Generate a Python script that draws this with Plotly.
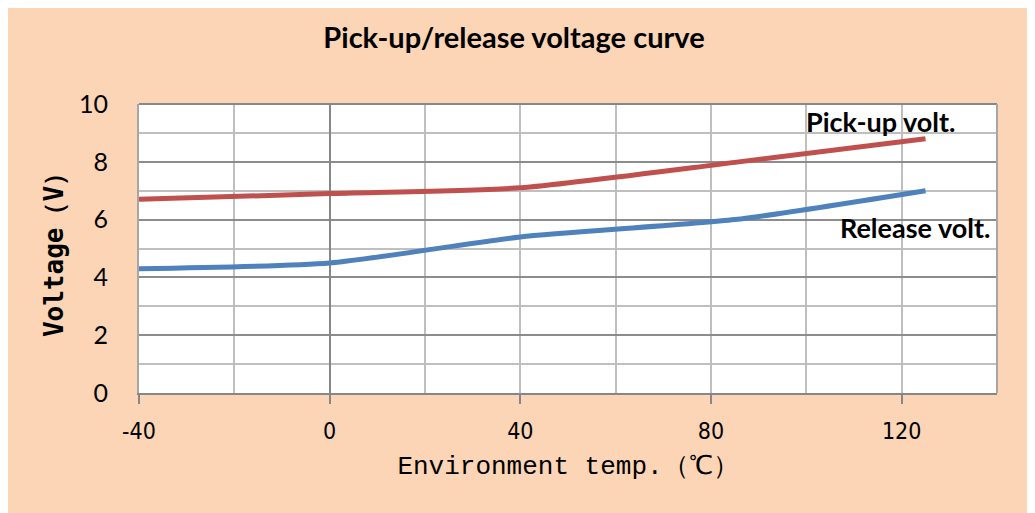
import plotly.graph_objects as go

temps = [-40, 0, 40, 85, 125]
pickup_v = [6.7, 6.9, 7.1, 7.98, 8.8]
release_v = [4.3, 4.5, 5.4, 6.0, 7.0]

x_tickvals = [-40, 0, 40, 80, 120]
x_ticktext = ["-40", "0", "40", "80", "120"]

title_text = "Pick-up/release voltage curve"
x_title = "Environment temp.（℃）"
y_title = "Voltage（V）"

W, H = 1035, 513
L, R, T, B = 131, 46, 96, 128
PEACH = "#FBD5B5"

fig = go.Figure()
fig.add_trace(go.Scatter(x=temps, y=pickup_v, mode="lines", name="Pick-up volt.",
                         line=dict(color="#C0504D", width=5, shape="spline", smoothing=0.6)))
fig.add_trace(go.Scatter(x=temps, y=release_v, mode="lines", name="Release volt.",
                         line=dict(color="#4F81BD", width=5, shape="spline", smoothing=0.6)))

fig.add_annotation(x=115.6, y=9.38, text="<b>Pick-up volt.</b>", showarrow=False,
                   font=dict(family="Lato, Noto Sans", size=27, color="black"))
fig.add_annotation(x=122.9, y=5.71, text="<b>Release volt.</b>", showarrow=False,
                   font=dict(family="Lato, Noto Sans", size=27, color="black"))

fig.update_layout(
    width=W, height=H,
    margin=dict(l=L, r=R, t=T, b=B),
    paper_bgcolor=PEACH, plot_bgcolor="white",
    showlegend=False,
    title=dict(text="<b>" + title_text + "</b>", x=506 / W, xanchor="center",
               y=1 - 30 / H, yanchor="middle",
               font=dict(family="Lato, Noto Sans", size=29, color="black")),
    xaxis=dict(range=[-40, 140], tickmode="array", tickvals=x_tickvals, ticktext=x_ticktext,
               showgrid=True, gridcolor="#BFBFBF", gridwidth=2,
               minor=dict(dtick=20, tick0=-40, showgrid=True, gridcolor="#BFBFBF", gridwidth=2),
               zeroline=True, zerolinecolor="#878787", zerolinewidth=2,
               showline=True, linecolor="#878787", linewidth=2, mirror=False,
               ticks="outside", ticklen=9, tickwidth=2, tickcolor="#878787",
               ticklabelstandoff=7,
               tickfont=dict(family="DejaVu Sans Condensed, Liberation Sans Narrow", size=23, color="black"),
               title=dict(text=x_title, standoff=13,
                          font=dict(family="Liberation Mono, DejaVu Sans Mono", size=26, color="black"))),
    yaxis=dict(range=[0, 10], tick0=0, dtick=2, showgrid=True, gridcolor="#8C8C8C", gridwidth=2,
               minor=dict(dtick=1, showgrid=True, gridcolor="#BFBFBF", gridwidth=2),
               zeroline=False,
               showline=True, linecolor="#A6A6A6", linewidth=2, mirror=False,
               ticks="", ticklabelstandoff=24,
               tickfont=dict(family="Lato, Noto Sans", size=25, color="black"),
               title=dict(text="<b>" + y_title + "</b>", standoff=8,
                          font=dict(family="DejaVu Sans Mono", size=26, color="black"))),
)
# top and right borders
fig.add_shape(type="line", xref="paper", yref="paper", x0=0, x1=1, y0=1, y1=1,
              line=dict(color="#878787", width=2))
fig.add_shape(type="line", xref="paper", yref="paper", x0=1, x1=1, y0=0, y1=1,
              line=dict(color="#A6A6A6", width=2))

fig.write_html("out.html")
